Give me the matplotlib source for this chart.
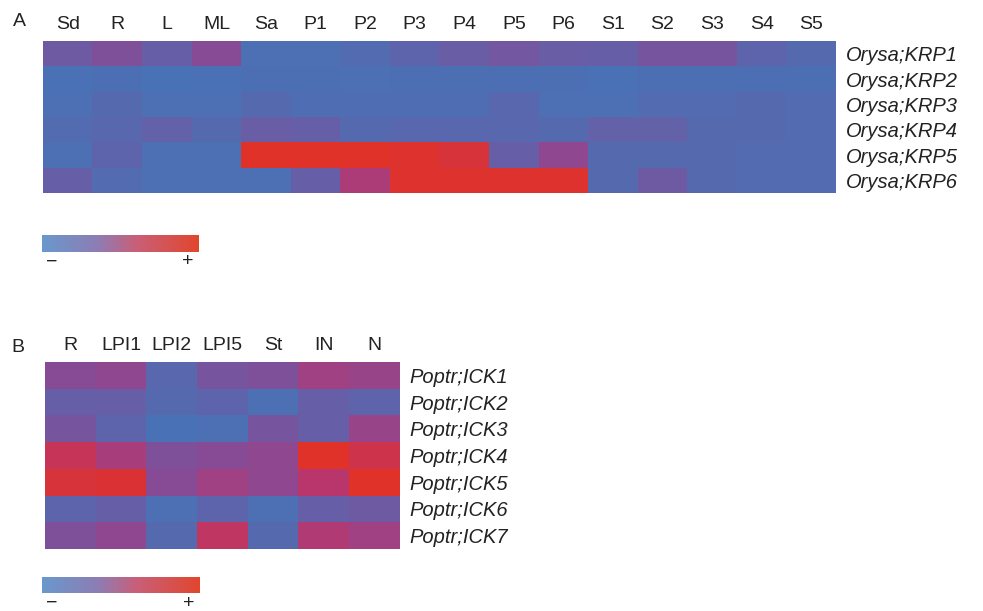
import matplotlib
matplotlib.use("Agg")
import matplotlib.pyplot as plt
import numpy as np
from matplotlib.colors import LinearSegmentedColormap, Normalize
from matplotlib.cm import ScalarMappable

plt.rcParams["font.family"] = ["Liberation Sans", "DejaVu Sans"]

# Rice KRP expression (relative, 0 = low, 1 = high)
rice_tissues = ["Sd", "R", "L", "ML", "Sa", "P1", "P2", "P3",
                "P4", "P5", "P6", "S1", "S2", "S3", "S4", "S5"]
rice_genes = ["Orysa;KRP1", "Orysa;KRP2", "Orysa;KRP3",
              "Orysa;KRP4", "Orysa;KRP5", "Orysa;KRP6"]
krp1 = [0.25, 0.35, 0.20, 0.40, 0.05, 0.05, 0.08, 0.15, 0.22, 0.28, 0.22, 0.20, 0.30, 0.30, 0.15, 0.10]
krp2 = [0.03, 0.04, 0.02, 0.03, 0.04, 0.04, 0.05, 0.04, 0.04, 0.04, 0.04, 0.03, 0.04, 0.04, 0.04, 0.04]
krp3 = [0.05, 0.10, 0.05, 0.05, 0.10, 0.06, 0.06, 0.06, 0.06, 0.12, 0.05, 0.05, 0.08, 0.08, 0.10, 0.08]
krp4 = [0.08, 0.12, 0.18, 0.10, 0.22, 0.20, 0.10, 0.12, 0.12, 0.12, 0.10, 0.18, 0.18, 0.10, 0.10, 0.08]
krp5 = [0.05, 0.15, 0.05, 0.05, 1.00, 1.00, 1.00, 0.98, 0.92, 0.20, 0.45, 0.10, 0.10, 0.10, 0.08, 0.08]
krp6 = [0.20, 0.08, 0.05, 0.05, 0.05, 0.20, 0.62, 0.98, 0.98, 0.98, 0.98, 0.10, 0.25, 0.10, 0.08, 0.08]

# Poplar ICK expression
poplar_tissues = ["R", "LPI1", "LPI2", "LPI5", "St", "IN", "N"]
poplar_genes = ["Poptr;ICK1", "Poptr;ICK2", "Poptr;ICK3", "Poptr;ICK4",
                "Poptr;ICK5", "Poptr;ICK6", "Poptr;ICK7"]
ick1 = [0.40, 0.45, 0.12, 0.30, 0.35, 0.55, 0.50]
ick2 = [0.20, 0.20, 0.10, 0.15, 0.05, 0.20, 0.15]
ick3 = [0.30, 0.15, 0.02, 0.05, 0.30, 0.20, 0.50]
ick4 = [0.80, 0.60, 0.35, 0.40, 0.45, 1.00, 0.85]
ick5 = [0.92, 0.95, 0.40, 0.55, 0.45, 0.70, 1.00]
ick6 = [0.15, 0.20, 0.05, 0.15, 0.05, 0.20, 0.25]
ick7 = [0.35, 0.45, 0.10, 0.75, 0.10, 0.65, 0.55]

heat_cmap = LinearSegmentedColormap.from_list("bpr", [
    (0.00, (70 / 255, 116 / 255, 184 / 255)),
    (0.40, (135 / 255, 75 / 255, 150 / 255)),
    (0.70, (185 / 255, 55 / 255, 110 / 255)),
    (1.00, (225 / 255, 50 / 255, 42 / 255)),
])
bar_cmap = LinearSegmentedColormap.from_list("bar", [
    (0.00, (105 / 255, 152 / 255, 204 / 255)),
    (0.35, (140 / 255, 125 / 255, 180 / 255)),
    (0.60, (200 / 255, 95 / 255, 120 / 255)),
    (1.00, (225 / 255, 70 / 255, 45 / 255)),
])

TEXT = "#222222"
W, H = 983, 611
fig = plt.figure(figsize=(W / 100, H / 100), dpi=100)


def px_axes(x0, y0, x1, y1):
    """Axes from pixel box (top-left origin)."""
    return fig.add_axes([x0 / W, (H - y1) / H, (x1 - x0) / W, (y1 - y0) / H])


def heatmap(ax, data, cols, rows):
    ax.imshow(np.array(data), cmap=heat_cmap, vmin=0, vmax=1,
              aspect="auto", interpolation="nearest")
    ax.xaxis.tick_top()
    ax.yaxis.tick_right()
    ax.set_xticks(range(len(cols)))
    ax.set_xticklabels(cols, fontsize=14)
    ax.set_yticks(range(len(rows)))
    ax.set_yticklabels(rows, fontsize=14.5, style="italic")
    ax.tick_params(axis="x", length=0, pad=6, colors=TEXT)
    ax.tick_params(axis="y", length=0, pad=7, colors=TEXT)
    for s in ax.spines.values():
        s.set_visible(False)


def legend_bar(x0, y0, x1, y1):
    cax = px_axes(x0, y0, x1, y1)
    cb = fig.colorbar(ScalarMappable(Normalize(0, 1), bar_cmap), cax=cax,
                      orientation="horizontal")
    cb.set_ticks([])
    cb.outline.set_visible(False)
    fig.text((x0 + 10) / W, 1 - (y1 + 10) / H, "\u2212", fontsize=14,
             ha="center", va="center", color=TEXT)
    fig.text((x1 - 11) / W, 1 - (y1 + 10) / H, "+", fontsize=14,
             ha="center", va="center", color=TEXT)


ax_a = px_axes(43, 41, 836, 193)
heatmap(ax_a, [krp1, krp2, krp3, krp4, krp5, krp6], rice_tissues, rice_genes)
fig.text(19 / W, 1 - 22 / H, "A", fontsize=14, ha="center", va="center", color=TEXT)
legend_bar(42, 235, 199, 252)

ax_b = px_axes(45, 362, 400, 549)
heatmap(ax_b, [ick1, ick2, ick3, ick4, ick5, ick6, ick7], poplar_tissues, poplar_genes)
fig.text(18 / W, 1 - 347 / H, "B", fontsize=14, ha="center", va="center", color=TEXT)
legend_bar(42, 577, 200, 593)

fig.savefig("out.png", dpi=100)
